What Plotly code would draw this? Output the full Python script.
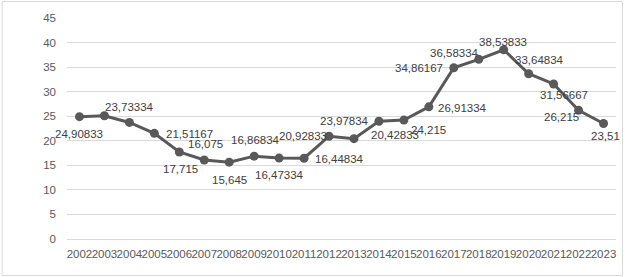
import plotly.graph_objects as go

years = [str(y) for y in range(2002, 2024)]
values = [24.90833, 25.1, 23.73334, 21.51167, 17.715, 16.075, 15.645, 16.86834,
          16.47334, 16.44834, 20.92833, 20.42833, 23.97834, 24.215, 26.91334,
          34.86167, 36.58334, 38.53833, 33.64834, 31.56667, 26.215, 23.51]
labels = ["24,90833", "", "23,73334", "21,51167", "17,715", "16,075", "15,645",
          "16,86834", "16,47334", "16,44834", "20,92833", "20,42833", "23,97834",
          "24,215", "26,91334", "34,86167", "36,58334", "38,53833", "33,64834",
          "31,56667", "26,215", "23,51"]
# label offsets in pixels (dx right, dy down) as placed in the original chart
label_dx = [0, 0, 0, 35, 1, 1, 0, 1, 0, 35, -26, 41, -34, 25, 34, -35, -24, -1, 11, 10, -17, 2]
label_dy = [17, 0, -15, 1, 17, -16, 18, -16, 17, 1, 0, -4, 0, 10, 1, 0, -6, -8, -14, 11, 7, 12]

W, H = 625, 277
L, R, T, B = 66.5, 8.5, 18, 38
pw, ph = W - L - R, H - T - B

fig = go.Figure()
fig.add_trace(go.Scatter(
    x=years, y=values, mode="lines+markers",
    line=dict(color="#595959", width=3),
    marker=dict(color="#595959", size=9),
    cliponaxis=False, showlegend=False,
))

annotations = []
for i, (v, t, dx, dy) in enumerate(zip(values, labels, label_dx, label_dy)):
    if not t:
        continue
    annotations.append(dict(x=i, y=v, xref="x", yref="y", text=t, showarrow=False,
                            xshift=dx, yshift=-dy, xanchor="center", yanchor="middle",
                            font=dict(family="Liberation Sans", size=11.5, color="#404040")))

fig.update_layout(
    width=W, height=H,
    margin=dict(l=L, r=R, t=T, b=B),
    paper_bgcolor="white", plot_bgcolor="white",
    font=dict(family="Liberation Sans", size=11, color="#595959"),
    xaxis=dict(type="category", range=[-0.5, 21.5], showgrid=False, showline=False, ticks="",
               tickfont=dict(size=11.5, color="#595959"), tickangle=0,
               ticklabelstandoff=6),
    yaxis=dict(range=[0, 45], dtick=5, showgrid=True, gridcolor="#d9d9d9",
               gridwidth=1, zeroline=True, zerolinecolor="#d9d9d9", zerolinewidth=1,
               showline=False, ticks="", tickfont=dict(size=11.5, color="#595959"),
               ticklabelstandoff=10),
    annotations=annotations,
    shapes=[dict(type="rect", xref="paper", yref="paper",
                 x0=(1.5 - L) / pw, x1=(623 - L) / pw,
                 y0=(H - B - 275.5) / ph, y1=(H - B - 1.5) / ph,
                 line=dict(color="#d9d9d9", width=1), fillcolor="rgba(0,0,0,0)")],
)

fig.write_html("out.html")
